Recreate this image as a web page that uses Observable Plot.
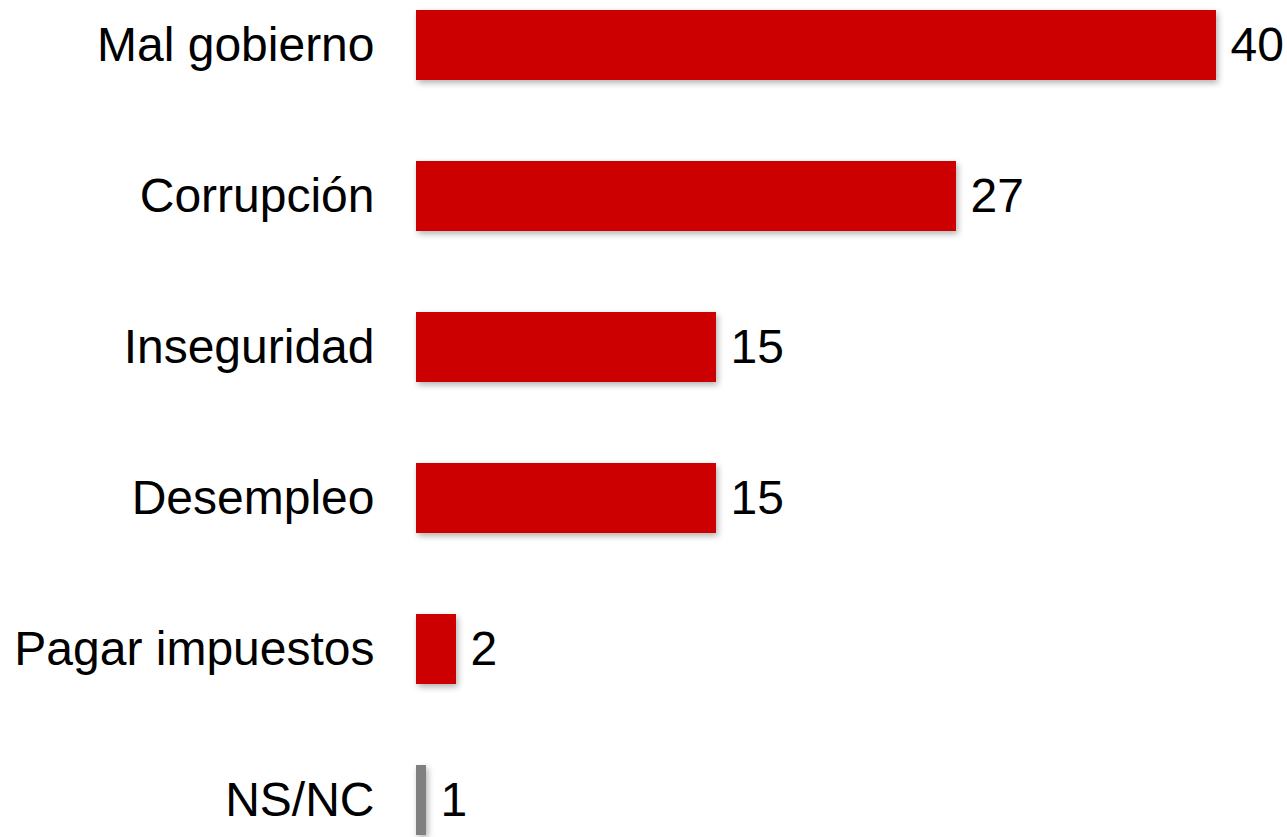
<!DOCTYPE html>
<html>
<head>
<meta charset="utf-8">
<script src="https://cdn.jsdelivr.net/npm/d3@7"></script>
<script src="https://cdn.jsdelivr.net/npm/@observablehq/plot@0.6"></script>
<style>
  html, body { margin: 0; padding: 0; background: #fff; overflow: hidden; }
  #chart svg { display: block; font-family: "Liberation Sans", Arial, sans-serif; }
</style>
</head>
<body>
<div id="chart"></div>
<script>
const categories = ["Mal gobierno", "Corrupción", "Inseguridad", "Desempleo", "Pagar impuestos", "NS/NC"];
const values = [40, 27, 15, 15, 2, 0.5];
const labels = ["40", "27", "15", "15", "2", "1"];
const colors = ["#CC0000", "#CC0000", "#CC0000", "#CC0000", "#CC0000", "#808080"];

const data = categories.map((c, i) => ({cat: c, value: values[i], label: labels[i], color: colors[i]}));

const chart = Plot.plot({
  width: 1287,
  height: 837,
  marginLeft: 416,
  marginRight: 71,
  marginTop: 8,
  marginBottom: 0,
  style: {fontFamily: "'Liberation Sans', Arial, sans-serif", color: "#000", background: "#fff"},
  x: {domain: [0, 40], axis: null},
  y: {domain: categories, paddingInner: 0.535, paddingOuter: 0, axis: null},
  marks: [
    Plot.barX(data, {
      x: "value", y: "cat", fill: "color",
      imageFilter: "drop-shadow(2px 3px 3px rgba(0,0,0,0.3))"
    }),
    Plot.text(data, {
      x: "value", y: "cat", text: "label",
      dx: 14, textAnchor: "start", fontSize: 48, fill: "#000"
    }),
    Plot.axisY({tickSize: 0, tickPadding: 42, fontSize: 48, label: null, stroke: null})
  ]
});
document.getElementById("chart").appendChild(chart);
</script>
</body>
</html>
